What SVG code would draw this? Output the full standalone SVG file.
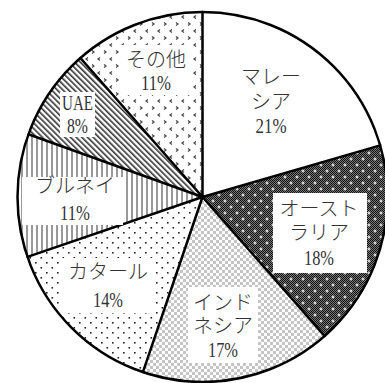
<svg xmlns="http://www.w3.org/2000/svg" width="385" height="383" viewBox="0 0 385 383">
<style>
.sep{stroke:#000;stroke-width:2.5;fill:none;stroke-linecap:round}
.lbl{font-family:'Liberation Serif','Noto Sans CJK JP',serif;font-size:20px;fill:#333;text-anchor:middle;font-weight:300}
.box{fill:#fff}
</style>
<defs>
<pattern id="chkD" width="2" height="2" patternUnits="userSpaceOnUse">
<rect width="2" height="2" fill="#777"/><rect width="1" height="1" fill="#111"/><rect x="1" y="1" width="1" height="1" fill="#111"/>
</pattern>
<pattern id="aus" width="12" height="12" patternUnits="userSpaceOnUse">
<rect width="12" height="12" fill="url(#chkD)"/>
<path d="M3 1.5v3M1.5 3h3M9 7.5v3M7.5 9h3" stroke="#fff" stroke-width="1"/>
</pattern>
<pattern id="ind" width="6" height="6" patternUnits="userSpaceOnUse">
<rect width="6" height="6" fill="#fff"/><rect width="3" height="3" fill="#c4c4c4"/><rect x="3" y="3" width="3" height="3" fill="#c4c4c4"/>
</pattern>
<pattern id="qat" width="11" height="10" patternUnits="userSpaceOnUse">
<rect width="11" height="10" fill="#fff"/><rect x="2" y="2" width="1.6" height="1.6" fill="#222"/><rect x="7.5" y="7" width="1.6" height="1.6" fill="#222"/>
</pattern>
<pattern id="bru" width="5" height="5" patternUnits="userSpaceOnUse">
<rect width="5" height="5" fill="#fff"/><rect x="1" width="2" height="5" fill="#999"/>
</pattern>
<pattern id="uae" width="4" height="4" patternUnits="userSpaceOnUse" patternTransform="rotate(-45)">
<rect width="4" height="4" fill="#fff"/><rect width="1.6" height="4" fill="#333"/>
</pattern>
<pattern id="oth" width="12" height="14" patternUnits="userSpaceOnUse">
<rect width="12" height="14" fill="#fff"/>
<path d="M4 1.5L2 3L4 4.5M8 8.5L10 10L8 11.5" stroke="#444" stroke-width="1.2" fill="none"/>
</pattern>
</defs>
<g id="wedges">
<g id="malaysia"><path d="M202.5 197L202.5 12A185 185 0 0 1 380.2 145.4Z" fill="#fff"/></g>
<g id="australia"><path d="M202.5 197L380.2 145.4A185 185 0 0 1 324.6 336Z" fill="url(#aus)"/></g>
<g id="indonesia"><path d="M202.5 197L324.6 336A185 185 0 0 1 142.9 372.1Z" fill="url(#ind)"/></g>
<g id="qatar"><path d="M202.5 197L142.9 372.1A185 185 0 0 1 27.5 256.9Z" fill="url(#qat)"/></g>
<g id="brunei"><path d="M202.5 197L27.5 256.9A185 185 0 0 1 28.4 134.3Z" fill="url(#bru)"/></g>
<g id="uae-w"><path d="M202.5 197L28.4 134.3A185 185 0 0 1 80.4 58Z" fill="url(#uae)"/></g>
<g id="other"><path d="M202.5 197L80.4 58A185 185 0 0 1 202.5 12Z" fill="url(#oth)"/></g>
</g>
<g id="connectors">
<circle cx="202.5" cy="197" r="185" class="sep"/>
<path class="sep" d="M202.5 197L202.5 12M202.5 197L380.2 145.4M202.5 197L324.6 336M202.5 197L142.9 372.1M202.5 197L27.5 256.9M202.5 197L28.4 134.3M202.5 197L80.4 58"/>
</g>
<g id="labels">
<g id="lbl-malaysia">
<text class="lbl" x="271" y="84">マレー</text>
<text class="lbl" x="271" y="109">シア</text>
<text class="lbl" x="271" y="133" textLength="31" lengthAdjust="spacingAndGlyphs">21%</text>
</g>
<g id="lbl-australia">
<rect class="box" x="273" y="193" width="94" height="80"/>
<text class="lbl" x="319" y="216">オースト</text>
<text class="lbl" x="319" y="240">ラリア</text>
<text class="lbl" x="319" y="265" textLength="30" lengthAdjust="spacingAndGlyphs">18%</text>
</g>
<g id="lbl-indonesia">
<rect class="box" x="188" y="287" width="70" height="76"/>
<text class="lbl" x="223" y="310">インド</text>
<text class="lbl" x="223" y="333">ネシア</text>
<text class="lbl" x="223" y="357" textLength="30" lengthAdjust="spacingAndGlyphs">17%</text>
</g>
<g id="lbl-qatar">
<rect class="box" x="62" y="258" width="92" height="55"/>
<text class="lbl" x="108" y="279">カタール</text>
<text class="lbl" x="108" y="307" textLength="30" lengthAdjust="spacingAndGlyphs">14%</text>
</g>
<g id="lbl-brunei">
<rect class="box" x="22" y="177" width="101" height="48"/>
<text class="lbl" x="75" y="193">ブルネイ</text>
<text class="lbl" x="75" y="220" textLength="30" lengthAdjust="spacingAndGlyphs">11%</text>
</g>
<g id="lbl-uae">
<rect class="box" x="60" y="92" width="35" height="45"/>
<text class="lbl" x="77.5" y="110" textLength="31" lengthAdjust="spacingAndGlyphs">UAE</text>
<text class="lbl" x="77.5" y="133" textLength="21" lengthAdjust="spacingAndGlyphs">8%</text>
</g>
<g id="lbl-other">
<rect class="box" x="120" y="45" width="72" height="50"/>
<text class="lbl" x="156" y="67">その他</text>
<text class="lbl" x="156" y="90" textLength="30" lengthAdjust="spacingAndGlyphs">11%</text>
</g>
</g>
</svg>
